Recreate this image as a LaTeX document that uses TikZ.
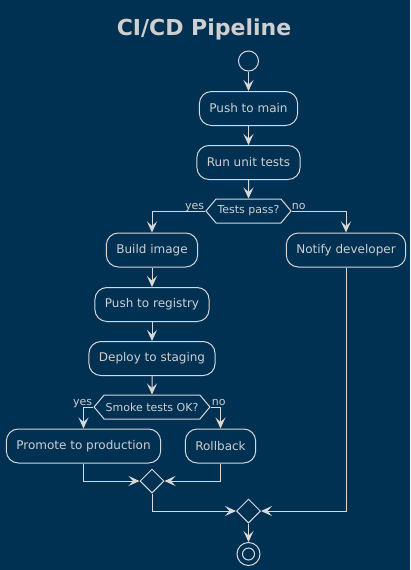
\documentclass[tikz,border=0pt]{standalone}
\usepackage{fontspec}
\setmainfont{DejaVu Sans}
\usetikzlibrary{arrows.meta,shapes.symbols,shapes.geometric}
\definecolor{bgblue}{HTML}{003153}
\definecolor{linegray}{HTML}{D8D8D8}
\definecolor{textgray}{HTML}{CFCFCF}
\tikzset{
    action/.style={draw=linegray, text=textgray, line width=1pt, rounded corners=12pt,
        minimum height=34pt, inner xsep=10pt, font=\fontsize{12}{14}\selectfont},
    decision/.style={draw=linegray, text=textgray, line width=1pt, shape=signal,
        signal to=west and east, signal pointer angle=100, minimum height=24pt,
        inner xsep=1.5pt, inner ysep=0pt, font=\fontsize{11}{13}\selectfont},
    merge/.style={draw=linegray, line width=1pt, diamond, inner sep=0pt,
        minimum width=24pt, minimum height=24pt},
    guard/.style={text=textgray, inner sep=0pt, font=\fontsize{11}{13}\selectfont},
    flow/.style={draw=linegray, line width=1pt, -{Stealth[length=11pt,width=10pt,inset=4.5pt]}}
}
\begin{document}
\begin{tikzpicture}[x=1pt,y=-1pt]
        % background
        \fill [bgblue] (0,0) rectangle (410,570);
        \useasboundingbox (0,0) rectangle (410,570);
        % title
        \node [text=textgray, anchor=base, font=\bfseries\fontsize{22}{26}\selectfont] (title) at (204,35) {CI/CD Pipeline};
        % main column
        \node [draw=linegray, line width=1pt, circle, inner sep=0pt, minimum size=20pt] (start) at (248.5,61) {};
        \node [action] (push) at (248.5,108.5) {Push to main};
        \node [action] (run) at (248.5,162.5) {Run unit tests};
        \node [decision] (tests) at (248.5,211) {Tests pass?};
        \node [guard, anchor=base east] at ([shift={(-1,-2)}]tests.west) {yes};
        \node [guard, anchor=base west] at ([shift={(0,-2)}]tests.east) {no};
        % build branch
        \node [action] (build) at (152,250) {Build image};
        \node [action] (registry) at (152,304.5) {Push to registry};
        \node [action] (staging) at (152,358.5) {Deploy to staging};
        \node [decision] (smoke) at (152,407) {Smoke tests OK?};
        \node [guard, anchor=base east] at ([shift={(-1,-2)}]smoke.west) {yes};
        \node [guard, anchor=base west] at ([shift={(1,-2)}]smoke.east) {no};
        \node [action] (promote) at (83.5,446) {Promote to production};
        \node [action] (rollback) at (220.5,446) {Rollback};
        \node [merge] (mergeA) at (152,481) {};
        % failure branch
        \node [action] (notify) at (346,250) {Notify developer};
        % end
        \node [merge] (mergeB) at (248.5,511) {};
        \node [draw=linegray, line width=1pt, circle, inner sep=0pt, minimum size=23pt] (stop) at (248.5,554) {};
        \draw [linegray, line width=1pt] (stop) circle (6pt);
        % connectors
        \draw [flow] (start) -- (push);
        \draw [flow] (push) -- (run);
        \draw [flow] (run) -- (tests);
        \draw [flow] (tests.west) -| (build);
        \draw [flow] (tests.east) -| (notify);
        \draw [flow] (build) -- (registry);
        \draw [flow] (registry) -- (staging);
        \draw [flow] (staging) -- (smoke);
        \draw [flow] (smoke.west) -| (promote);
        \draw [flow] (smoke.east) -| (rollback);
        \draw [flow] (promote) |- (mergeA);
        \draw [flow] (rollback) |- (mergeA);
        \draw [flow] (mergeA) |- (mergeB);
        \draw [flow] (notify) |- (mergeB);
        \draw [flow] (mergeB) -- (stop);
\end{tikzpicture}
\end{document}
